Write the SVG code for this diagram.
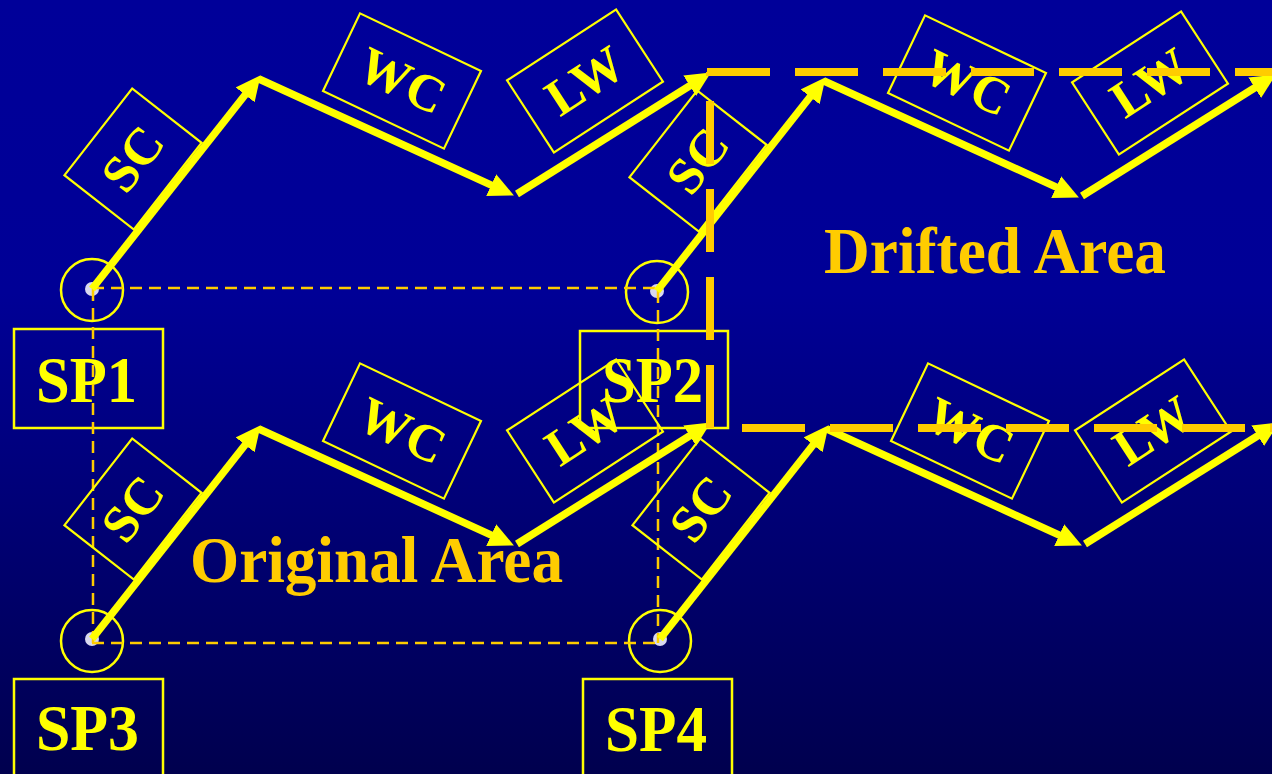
<svg xmlns="http://www.w3.org/2000/svg" width="1272" height="774" viewBox="0 0 1272 774">
<defs>
<linearGradient id="bg" x1="0" y1="0" x2="0" y2="1">
<stop offset="0" stop-color="#000099"/>
<stop offset="0.38" stop-color="#000096"/>
<stop offset="1" stop-color="#00004e"/>
</linearGradient>
<marker id="ah" viewBox="0 0 25 24" refX="2" refY="12" markerWidth="25" markerHeight="24" markerUnits="userSpaceOnUse" orient="auto">
<path d="M0,0 L25,12 L0,24 z" fill="#ffff00"/>
</marker>
<style>
.ring{fill:none;stroke:#ffff00;stroke-width:2.5}
.dot{fill:#d8d8f0}
.spbox{fill:none;stroke:#ffff00;stroke-width:2.5}
.sptext{font-family:"Liberation Serif","Times New Roman",serif;font-weight:bold;font-size:66px;fill:#ffff00}
.lbox{fill:none;stroke:#ffff00;stroke-width:2.2}
.ltext{font-family:"Liberation Serif","Times New Roman",serif;font-weight:bold;font-size:52px;fill:#ffff00;text-anchor:middle}
.grid{fill:none;stroke:#ffcc00;stroke-width:2.5;stroke-dasharray:12 7}
.arrow{fill:none;stroke:#ffff00;stroke-width:7.5;marker-end:url(#ah)}
.area{font-family:"Liberation Serif","Times New Roman",serif;font-weight:bold;font-size:66px;fill:#ffcc00}
.drift{fill:none;stroke:#ffcc00;stroke-width:8;stroke-dasharray:63 25}
</style>
</defs>
<rect x="0" y="0" width="1272" height="774" fill="url(#bg)"/>

<g id="SP1">
<circle class="ring" cx="92" cy="290" r="31"/>
<circle class="dot" cx="92" cy="289" r="7"/>
<rect class="spbox" x="14" y="329" width="149" height="99"/>
<text class="sptext" x="36" y="402" textLength="101" lengthAdjust="spacingAndGlyphs">SP1</text>
</g>
<g id="SP2">
<circle class="ring" cx="657" cy="292" r="31"/>
<circle class="dot" cx="657" cy="291" r="7"/>
<rect class="spbox" x="580" y="331" width="148" height="97"/>
<text class="sptext" x="602" y="402" textLength="101" lengthAdjust="spacingAndGlyphs">SP2</text>
</g>
<g id="SP3">
<circle class="ring" cx="92" cy="641" r="31"/>
<circle class="dot" cx="92" cy="639" r="7"/>
<rect class="spbox" x="14" y="679" width="149" height="120"/>
<text class="sptext" x="36" y="750" textLength="103" lengthAdjust="spacingAndGlyphs">SP3</text>
</g>
<g id="SP4">
<circle class="ring" cx="660" cy="641" r="31"/>
<circle class="dot" cx="660" cy="639" r="7"/>
<rect class="spbox" x="583" y="679" width="149" height="120"/>
<text class="sptext" x="605" y="751" textLength="102" lengthAdjust="spacingAndGlyphs">SP4</text>
</g>

<g id="original-grid">
<line class="grid" x1="92" y1="288" x2="657" y2="288"/>
<line class="grid" x1="92" y1="643" x2="660" y2="643"/>
<line class="grid" x1="93" y1="289" x2="93" y2="643"/>
<line class="grid" x1="658" y1="291" x2="658" y2="643"/>
</g>

<g id="SC1" transform="translate(133,159) rotate(-52)"><rect class="lbox" x="-55" y="-44" width="110" height="88"/><text class="ltext" x="0" y="17">SC</text></g>
<g id="WC1" transform="translate(402,81) rotate(25.5)"><rect class="lbox" x="-67" y="-43" width="134" height="86"/><text class="ltext" x="0" y="17">WC</text></g>
<g id="LW1" transform="translate(585,81) rotate(-33)"><rect class="lbox" x="-65" y="-43" width="130" height="86"/><text class="ltext" x="0" y="17">LW</text></g>

<g id="SC2" transform="translate(133,509) rotate(-52)"><rect class="lbox" x="-55" y="-44" width="110" height="88"/><text class="ltext" x="0" y="17">SC</text></g>
<g id="WC2" transform="translate(402,431) rotate(25.5)"><rect class="lbox" x="-67" y="-43" width="134" height="86"/><text class="ltext" x="0" y="17">WC</text></g>
<g id="LW2" transform="translate(585,431) rotate(-33)"><rect class="lbox" x="-65" y="-43" width="130" height="86"/><text class="ltext" x="0" y="17">LW</text></g>

<g id="SC3" transform="translate(698,161) rotate(-52)"><rect class="lbox" x="-55" y="-44" width="110" height="88"/><text class="ltext" x="0" y="17">SC</text></g>
<g id="WC3" transform="translate(967,83) rotate(25.5)"><rect class="lbox" x="-67" y="-43" width="134" height="86"/><text class="ltext" x="0" y="17">WC</text></g>
<g id="LW3" transform="translate(1150,83) rotate(-33)"><rect class="lbox" x="-65" y="-43" width="130" height="86"/><text class="ltext" x="0" y="17">LW</text></g>

<g id="SC4" transform="translate(701,509) rotate(-52)"><rect class="lbox" x="-55" y="-44" width="110" height="88"/><text class="ltext" x="0" y="17">SC</text></g>
<g id="WC4" transform="translate(970,431) rotate(25.5)"><rect class="lbox" x="-67" y="-43" width="134" height="86"/><text class="ltext" x="0" y="17">WC</text></g>
<g id="LW4" transform="translate(1153,431) rotate(-33)"><rect class="lbox" x="-65" y="-43" width="130" height="86"/><text class="ltext" x="0" y="17">LW</text></g>

<g id="connectors">
<line class="arrow" x1="92" y1="289" x2="246.4" y2="93.3"/>
<line class="arrow" x1="259" y1="79" x2="493" y2="185.9"/>
<line class="arrow" x1="517" y1="194" x2="691.4" y2="84.7"/>
<line class="arrow" x1="92" y1="639" x2="246.4" y2="443.3"/>
<line class="arrow" x1="259" y1="429" x2="493" y2="535.9"/>
<line class="arrow" x1="517" y1="544" x2="691.4" y2="434.7"/>
<line class="arrow" x1="657" y1="291" x2="811.4" y2="95.3"/>
<line class="arrow" x1="824" y1="81" x2="1058" y2="187.9"/>
<line class="arrow" x1="1082" y1="196" x2="1256.4" y2="86.7"/>
<line class="arrow" x1="660" y1="639" x2="814.4" y2="443.3"/>
<line class="arrow" x1="827" y1="429" x2="1061" y2="535.9"/>
<line class="arrow" x1="1085" y1="544" x2="1259.4" y2="434.7"/>
</g>

<text id="original-area" class="area" x="190" y="582" textLength="373" lengthAdjust="spacingAndGlyphs">Original Area</text>
<text id="drifted-area" class="area" x="824" y="273" textLength="342" lengthAdjust="spacingAndGlyphs">Drifted Area</text>

<g id="drifted-outline">
<line class="drift" x1="707" y1="72" x2="1272" y2="72"/>
<line class="drift" x1="710" y1="428" x2="710" y2="72"/>
<line class="drift" x1="742" y1="428" x2="1272" y2="428"/>
</g>
</svg>
